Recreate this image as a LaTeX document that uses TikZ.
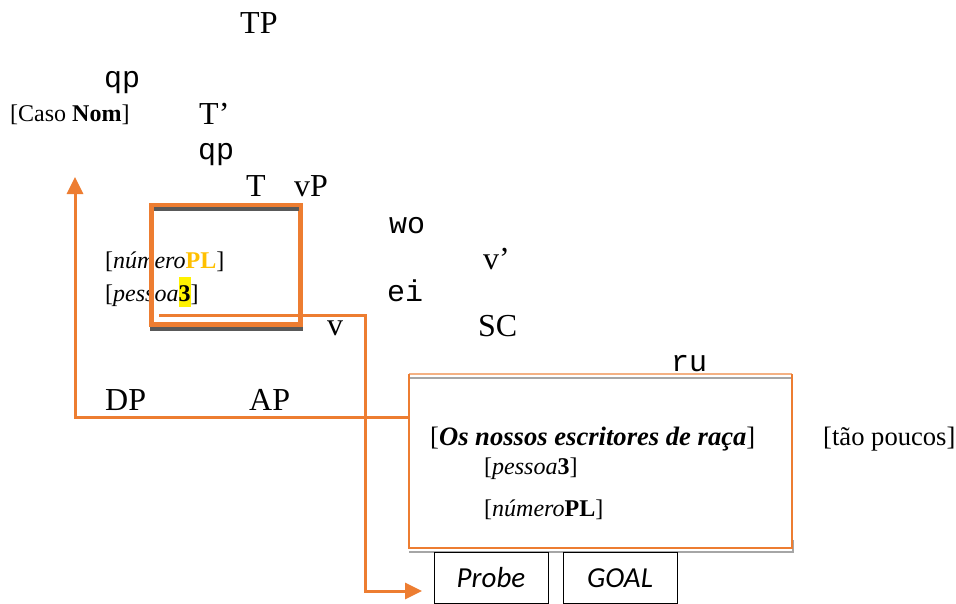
\documentclass[tikz,border=0pt]{standalone}
\usepackage{fontspec}
\setmainfont{Liberation Serif}
\newfontfamily\trmono{Liberation Mono}
\newfontfamily\calib{Carlito}
\usetikzlibrary{arrows.meta}
\definecolor{orng}{HTML}{ED7D31}
\definecolor{lorng}{HTML}{F4B183}
\definecolor{gold}{HTML}{FFC000}
\definecolor{darkgr}{HTML}{595959}
\definecolor{midgr}{HTML}{A6A6A6}
\begin{document}
\begin{tikzpicture}[x=1pt,y=-1pt,
  lbl/.style={inner sep=0pt, anchor=base west, font=\fontsize{32}{34}\selectfont},
  feat/.style={inner sep=0pt, anchor=base west, font=\fontsize{24}{26}\selectfont},
  bigfeat/.style={inner sep=0pt, anchor=base west, font=\fontsize{26.6}{28}\selectfont},
  branch/.style={inner sep=0pt, anchor=base west, font=\trmono\fontsize{30}{32}\selectfont},
  conn/.style={orng, line width=3pt},
  tipped/.style={-{Triangle[length=17pt,width=16pt]}},
  tagbox/.style={draw=black, line width=1pt, minimum width=114pt, minimum height=51pt, inner sep=0pt, font=\calib\itshape\fontsize{29}{31}\selectfont}]
\useasboundingbox (0,0) rectangle (956,603);
\fill[white] (0,0) rectangle (956,603);

% tree labels
\node[lbl] (tp) at (240,33) {TP};
\node[branch] (b1) at (104,87) {qp};
\node[feat] (caso) at (10,121) {[Caso \textbf{Nom}]};
\node[lbl] (tbar) at (199,124) {T’};
\node[branch] (b2) at (198,159) {qp};
\node[lbl] (t) at (246,196) {T};
\node[lbl] (vp) at (294,196) {vP};
\node[feat] (num1) at (105,268) {[\textit{número}\textbf{\textcolor{gold}{PL}}]};
\node[feat] (pes1) at (105,301) {[\textit{pessoa}{\setlength\fboxsep{0pt}\colorbox{yellow}{\rule[-6pt]{0pt}{30pt}\textbf{3}}}]};
\node[branch] (b3) at (389,233) {wo};
\node[lbl] (vbar) at (483,269) {v’};
\node[branch] (b4) at (387,301) {ei};
\node[lbl] (v) at (327,335) {v};
\node[lbl] (sc) at (478,336) {SC};
\node[branch] (b5) at (671,371) {ru};
\node[lbl] (dp) at (105,410) {DP};
\node[lbl] (ap) at (249,410) {AP};

% small orange box
\draw[orng, line width=4.5pt] (151.5,205.5) rectangle (300.5,324.5);
\draw[darkgr, line width=3.5pt] (154,209) -- (299,209);
\draw[darkgr, line width=3.5pt] (150,329) -- (303,329);

% big box
\draw[midgr, line width=2pt] (409,378) -- (792,378);
\draw[midgr, line width=2pt] (409,552) -- (793,552) -- (793,540);
\draw[lorng, line width=2pt] (409,374) -- (792,374);
\draw[orng, line width=1.5pt] (409,374) -- (409,548) -- (792,548) -- (792,374);
\node[bigfeat] (dpfull) at (430,445) {[\textbf{\textit{Os nossos escritores de raça}}]};
\node[bigfeat] (tao) at (823,445) {[tão poucos]};
\node[feat] (pes2) at (484,474) {[\textit{pessoa}\textbf{3}]};
\node[feat] (num2) at (484,516) {[\textit{número}\textbf{PL}]};

% probe / goal
\node[tagbox] (probe) at (491,577.5) {Probe};
\node[tagbox] (goal) at (620,578) {GOAL};

% connectors
\coordinate (boxL) at (409,417);
\coordinate (nomTip) at (75,177);
\draw[conn, tipped] (boxL) -| (nomTip);
\coordinate (probeStart) at (159,315);
\coordinate (bend) at (365,315);
\coordinate (probeTip) at (422,591);
\draw[conn, tipped] (probeStart) -- (bend) |- (probeTip);
\end{tikzpicture}
\end{document}
